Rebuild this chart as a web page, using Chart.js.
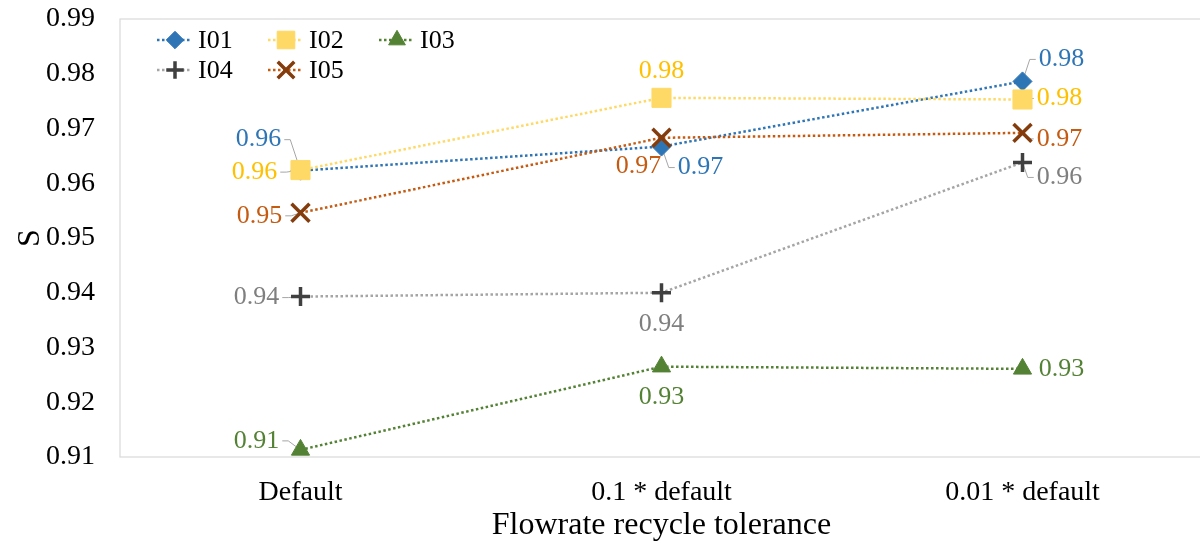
<!DOCTYPE html>
<html>
<head>
<meta charset="utf-8">
<script src="https://cdn.jsdelivr.net/npm/chart.js@4.4.1/dist/chart.umd.min.js"></script>
<style>
  html, body { margin: 0; padding: 0; background: #fff; overflow: hidden; }
  #wrap { width: 1206px; height: 545px; }
</style>
</head>
<body>
<div id="wrap"><canvas id="c" width="1206" height="545"></canvas></div>
<script>
// ---- data ----
const categories = ["Default", "0.1 * default", "0.01 * default"];
const seriesNames = ["I01", "I02", "I03", "I04", "I05"];
const I01 = [0.9623, 0.9667, 0.9786];
const I02 = [0.9624, 0.9756, 0.9753];
const I03 = [0.9113, 0.9265, 0.9261];
const I04 = [0.9393, 0.9400, 0.9638];
const I05 = [0.9546, 0.9683, 0.9692];
const yMin = 0.91, yMax = 0.99, yStep = 0.01;
const xTitle = "Flowrate recycle tolerance";
const yTitle = "S";

const FONT = "'Liberation Serif', 'Times New Roman', serif";

const styles = [
  { line: '#2E75B6', marker: '#2E75B6', label: '#2E75B6', pointStyle: 'rectRot', radius: 9.5, bw: 1 },
  { line: '#FFD966', marker: '#FFD966', label: '#FFC000', pointStyle: 'rect', radius: 13.5, bw: 1 },
  { line: '#548235', marker: '#548235', label: '#548235', pointStyle: 'triangle', radius: 10.5, bw: 1 },
  { line: '#A5A5A5', marker: '#404040', label: '#7F7F7F', pointStyle: 'cross', radius: 9.5, bw: 3.5 },
  { line: '#C55A11', marker: '#843C0C', label: '#C55A11', pointStyle: 'crossRot', radius: 12.7, bw: 3.5 }
];
const seriesValues = [I01, I02, I03, I04, I05];

// label placement (pixel offsets from the point) and leader flags
const labelOffsets = [
  [[-42, -31], [39, 21], [39, -22]],
  [[-46, 2], [0, -27], [37, -1]],
  [[-44, -9], [0, 31], [39, 0]],
  [[-44, 1], [0, 31], [37, 15]],
  [[-41, 3], [-23, 28], [37, 6]]
];
const leaders = [
  [true, true, true],
  [true, false, true],
  [true, false, false],
  [true, false, true],
  [true, false, true]
];

const datasets = seriesValues.map((vals, i) => ({
  label: seriesNames[i],
  data: vals,
  borderColor: styles[i].line,
  backgroundColor: styles[i].marker,
  pointBackgroundColor: styles[i].marker,
  pointBorderColor: styles[i].marker,
  pointBorderWidth: styles[i].bw,
  pointStyle: styles[i].pointStyle,
  pointRadius: styles[i].radius,
  pointHoverRadius: styles[i].radius,
  borderWidth: 2.5,
  borderDash: [2.5, 2.5],
  fill: false,
  tension: 0,
  clip: false,
  order: seriesValues.length - i
}));

function drawMarker(ctx, style, x, y, r, color, bw) {
  ctx.save();
  ctx.fillStyle = color; ctx.strokeStyle = color; ctx.lineWidth = bw;
  ctx.setLineDash([]);
  ctx.beginPath();
  if (style === 'rectRot') {
    ctx.moveTo(x - r, y); ctx.lineTo(x, y - r); ctx.lineTo(x + r, y); ctx.lineTo(x, y + r); ctx.closePath();
    ctx.fill(); ctx.stroke();
  } else if (style === 'rect') {
    const s = Math.SQRT1_2 * r; ctx.rect(x - s, y - s, 2 * s, 2 * s); ctx.fill(); ctx.stroke();
  } else if (style === 'triangle') {
    ctx.moveTo(x, y - r);
    ctx.lineTo(x + r * Math.cos(Math.PI / 6), y + r * 0.5);
    ctx.lineTo(x - r * Math.cos(Math.PI / 6), y + r * 0.5);
    ctx.closePath(); ctx.fill(); ctx.stroke();
  } else if (style === 'cross') {
    ctx.moveTo(x - r, y); ctx.lineTo(x + r, y); ctx.moveTo(x, y - r); ctx.lineTo(x, y + r); ctx.stroke();
  } else if (style === 'crossRot') {
    const d = r * Math.SQRT1_2;
    ctx.moveTo(x - d, y - d); ctx.lineTo(x + d, y + d); ctx.moveTo(x + d, y - d); ctx.lineTo(x - d, y + d); ctx.stroke();
  }
  ctx.restore();
}

const borderPlugin = {
  id: 'plotBorder',
  beforeDatasetsDraw(chart) {
    const a = chart.chartArea, ctx = chart.ctx;
    ctx.save();
    ctx.strokeStyle = '#D9D9D9'; ctx.lineWidth = 1.2;
    ctx.strokeRect(a.left, a.top, a.right - a.left, a.bottom - a.top);
    ctx.restore();
  }
};

const leaderPlugin = {
  id: 'leaders',
  beforeDatasetsDraw(chart) {
    const ctx = chart.ctx;
    ctx.save();
    ctx.font = '26px ' + FONT;
    ctx.strokeStyle = '#A6A6A6'; ctx.lineWidth = 1;
    chart.data.datasets.forEach((ds, i) => {
      const meta = chart.getDatasetMeta(i);
      meta.data.forEach((pt, j) => {
        if (!leaders[i][j]) return;
        const [dx, dy] = labelOffsets[i][j];
        const txt = ds.data[j].toFixed(2);
        const hw = ctx.measureText(txt).width / 2;
        const lx = pt.x + dx, ly = pt.y + dy;
        const side = dx < 0 ? 1 : -1;
        const ax = lx + side * (hw + 3);
        ctx.beginPath();
        ctx.moveTo(ax, ly);
        ctx.lineTo(ax + side * 6, ly);
        ctx.lineTo(pt.x, pt.y);
        ctx.stroke();
      });
    });
    ctx.restore();
  }
};

const labelPlugin = {
  id: 'valueLabels',
  afterDatasetsDraw(chart) {
    const ctx = chart.ctx;
    ctx.save();
    ctx.font = '26px ' + FONT;
    ctx.textAlign = 'center'; ctx.textBaseline = 'middle';
    chart.data.datasets.forEach((ds, i) => {
      const meta = chart.getDatasetMeta(i);
      ctx.fillStyle = styles[i].label;
      meta.data.forEach((pt, j) => {
        const [dx, dy] = labelOffsets[i][j];
        ctx.fillText(ds.data[j].toFixed(2), pt.x + dx, pt.y + dy);
      });
    });
    ctx.restore();
  }
};

const legendPlugin = {
  id: 'customLegend',
  afterDraw(chart) {
    const ctx = chart.ctx;
    const a = chart.chartArea;
    ctx.save();
    ctx.font = '26px ' + FONT;
    ctx.textBaseline = 'middle'; ctx.textAlign = 'left';
    chart.data.datasets.forEach((ds, i) => {
      const col = i % 3, row = Math.floor(i / 3);
      const x0 = a.left + 37 + col * 111;
      const y = a.top + 21 + row * 30;
      ctx.save();
      ctx.strokeStyle = styles[i].line; ctx.lineWidth = 2.5; ctx.setLineDash([2.5, 2.5]);
      ctx.beginPath(); ctx.moveTo(x0, y); ctx.lineTo(x0 + 35, y); ctx.stroke();
      ctx.restore();
      drawMarker(ctx, styles[i].pointStyle, x0 + 18, y, styles[i].radius * 0.92, styles[i].marker, styles[i].bw);
      ctx.fillStyle = '#000';
      ctx.fillText(ds.label, x0 + 41, y + 1);
    });
    ctx.restore();
  }
};

function zeroPad(scale) {
  scale.paddingTop = 0; scale.paddingBottom = 0;
  scale.paddingLeft = 0; scale.paddingRight = 0;
}

new Chart(document.getElementById('c'), {
  type: 'line',
  data: { labels: categories, datasets },
  plugins: [borderPlugin, leaderPlugin, labelPlugin, legendPlugin],
  options: {
    responsive: false,
    animation: false,
    devicePixelRatio: 1,
    layout: { autoPadding: false, padding: { top: 19, right: 3, left: 0, bottom: 0 } },
    plugins: { legend: { display: false }, tooltip: { enabled: false } },
    scales: {
      x: {
        type: 'category',
        offset: true,
        grid: { display: false, drawTicks: false },
        border: { display: false },
        ticks: { color: '#000', font: { family: FONT, size: 28 }, padding: 19, maxRotation: 0 },
        title: { display: true, text: xTitle, color: '#000', font: { family: FONT, size: 32 }, padding: 0 },
        afterFit(scale) { scale.height = 88; zeroPad(scale); }
      },
      y: {
        min: yMin, max: yMax,
        grid: { display: false, drawTicks: false },
        border: { display: false },
        ticks: {
          stepSize: yStep, color: '#000', font: { family: FONT, size: 28 }, padding: 25,
          callback: v => Number(v).toFixed(2)
        },
        title: { display: true, text: yTitle, color: '#000', font: { family: FONT, size: 32 }, padding: { top: 11, bottom: 0 } },
        afterFit(scale) { scale.width = 120; zeroPad(scale); }
      }
    }
  }
});
</script>
</body>
</html>
